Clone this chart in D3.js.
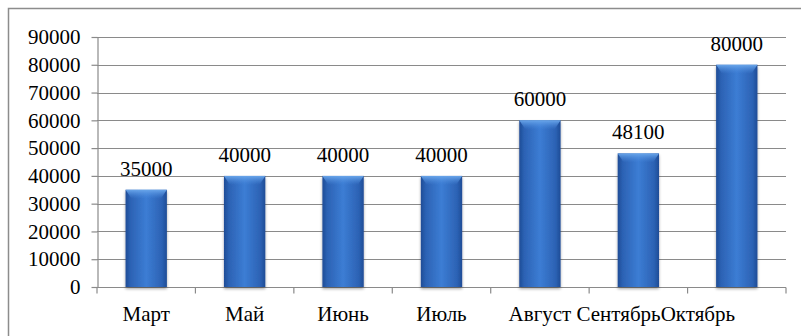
<!DOCTYPE html>
<html><head><meta charset="utf-8">
<script src="https://cdn.jsdelivr.net/npm/d3@7"></script>
<style>body{margin:0;background:#fff}svg{display:block}text{font-family:"Liberation Serif","Times New Roman",serif}</style>
</head><body>
<script>
const categories = ["Март","Май","Июнь","Июль","Август","Сентябрь","Октябрь"];
const values = [35000,40000,40000,40000,60000,48100,80000];
const yTicks = [0,10000,20000,30000,40000,50000,60000,70000,80000,90000];

(function(){
const W = 801, H = 336;
const svg = d3.select("body").append("svg").attr("width", W).attr("height", H);
const fs = 21;

const defs = svg.append("defs");
const g1 = defs.append("linearGradient").attr("id","barH").attr("x1","0").attr("x2","1").attr("y1","0").attr("y2","0");
[[0,"#1e4c96"],[0.12,"#2c62b4"],[0.5,"#3c7dd4"],[0.88,"#2c62b4"],[1,"#1e4c96"]].forEach(([o,c])=>g1.append("stop").attr("offset",o).attr("stop-color",c));
const g2 = defs.append("linearGradient").attr("id","barTop").attr("x1","0").attr("x2","0").attr("y1","0").attr("y2","1");
[[0,"#6aa6ea",1],[1,"#4a8ade",0]].forEach(([o,c,a])=>g2.append("stop").attr("offset",o).attr("stop-color",c).attr("stop-opacity",a));
const flt = defs.append("filter").attr("id","sh").attr("x","-20%").attr("y","-10%").attr("width","140%").attr("height","130%");
flt.append("feGaussianBlur").attr("in","SourceAlpha").attr("stdDeviation",1.5);
flt.append("feOffset").attr("dy",1.5).attr("result","b");
flt.append("feComponentTransfer").append("feFuncA").attr("type","linear").attr("slope",0.35);
const fm = flt.append("feMerge"); fm.append("feMergeNode"); fm.append("feMergeNode").attr("in","SourceGraphic");

svg.append("rect").attr("x",8.5).attr("y",8.5).attr("width",900).attr("height",400)
  .attr("fill","none").attr("stroke","#8c8c8c").attr("stroke-width",1.5);

const pL = 97, pR = 786, pT = 37, pB = 287;
const x = d3.scaleBand().domain(categories).range([pL,pR]).paddingInner(0.58).paddingOuter(0.29);
const y = d3.scaleLinear().domain([0,90000]).range([pB,pT]);

svg.append("g").selectAll("line").data(yTicks.slice(1)).join("line")
  .attr("x1",pL).attr("x2",pR).attr("y1",d=>Math.round(y(d))+0.5).attr("y2",d=>Math.round(y(d))+0.5)
  .attr("stroke","#8a8a8a").attr("stroke-width",1.2);

const ya = svg.append("g").attr("transform",`translate(${pL+0.5},0)`)
  .call(d3.axisLeft(y).tickValues(yTicks).tickSize(6).tickPadding(11).tickSizeOuter(0).tickFormat(d3.format("d")));
ya.attr("font-family",null).attr("font-size",null);
ya.select(".domain").attr("stroke","#8a8a8a").attr("stroke-width",1.2);
ya.selectAll(".tick line").attr("stroke","#8a8a8a").attr("stroke-width",1.2);
ya.selectAll(".tick text").attr("font-size",fs).attr("fill","#000");

const xa = svg.append("g").attr("transform",`translate(0,${pB+0.5})`);
xa.append("line").attr("x1",pL).attr("x2",pR).attr("stroke","#8a8a8a").attr("stroke-width",1.2);
const bounds = d3.range(categories.length+1).map(i=>pL + i*(pR-pL)/categories.length);
xa.selectAll("line.t").data(bounds).join("line").attr("class","t")
  .attr("x1",d=>d).attr("x2",d=>d).attr("y1",0).attr("y2",6).attr("stroke","#8a8a8a").attr("stroke-width",1.2);

// category labels: first ones centred; from "Август" on they run together as in the original
const flowFrom = 4;
xa.selectAll("text.c").data(categories.slice(0,flowFrom)).join("text").attr("class","c")
  .attr("x",d=>x(d)+x.bandwidth()/2).attr("y",33).attr("text-anchor","middle")
  .attr("font-size",fs).attr("fill","#000").text(d=>d);
const run = xa.append("text").attr("y",33).attr("font-size",fs).attr("fill","#000")
  .attr("text-anchor","start").attr("xml:space","preserve");
categories.slice(flowFrom).forEach((c,i)=>run.append("tspan").text(i===1 ? " "+c : c));
const firstW = run.select("tspan").node().getComputedTextLength();
run.attr("x", x(categories[flowFrom]) + x.bandwidth()/2 - firstW/2);

const data = categories.map((c,i)=>({c,v:values[i]}));
const bars = svg.append("g").selectAll("g").data(data).join("g").attr("filter","url(#sh)");
bars.append("rect").attr("x",d=>x(d.c)).attr("width",x.bandwidth())
  .attr("y",d=>y(d.v)).attr("height",d=>y(0)-y(d.v)).attr("fill","url(#barH)");
bars.append("path").attr("d",d=>{
  const x0=x(d.c), x1=x0+x.bandwidth(), t=y(d.v), b=6;
  return `M${x0},${t}L${x1},${t}L${x1-b},${t+b+3}L${x0+b},${t+b+3}Z`;
}).attr("fill","url(#barTop)");

svg.append("g").selectAll("text").data(data).join("text")
  .attr("x",d=>x(d.c)+x.bandwidth()/2).attr("y",d=>y(d.v)-14).attr("text-anchor","middle")
  .attr("font-size",fs).attr("fill","#000").text(d=>d.v);
})();
</script>
</body></html>
